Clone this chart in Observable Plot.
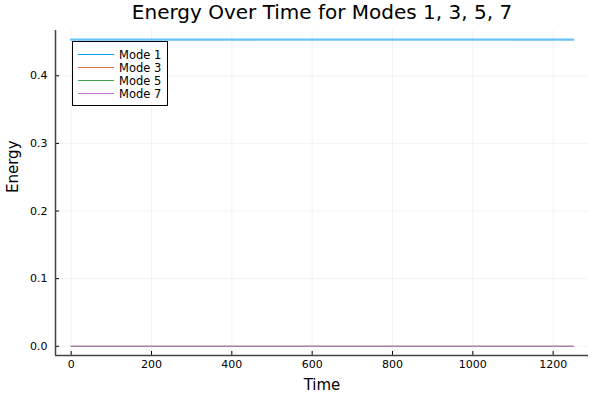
<!DOCTYPE html>
<html>
<head>
<meta charset="utf-8">
<script src="https://cdn.jsdelivr.net/npm/d3@7"></script>
<script src="https://cdn.jsdelivr.net/npm/@observablehq/plot@0.6"></script>
<style>
  html, body { margin: 0; padding: 0; background: #fff; }
  #chart { position: relative; width: 600px; height: 400px; font-family: "DejaVu Sans", sans-serif; }
</style>
</head>
<body>
<div id="chart"></div>
<script>
const title = "Energy Over Time for Modes 1, 3, 5, 7";
const xLabel = "Time";
const yLabel = "Energy";
const modes = ["Mode 1", "Mode 3", "Mode 5", "Mode 7"];
const colors = ["#009AFA", "#E36F47", "#3EA44E", "#C271D2"];
const time = [0, 250, 500, 750, 1000, 1250];
const mode1 = [0.4533, 0.4533, 0.4533, 0.4533, 0.4533, 0.4533];
const mode3 = [0.0, 0.0, 0.0, 0.0, 0.0, 0.0];
const mode5 = [0.0, 0.0, 0.0, 0.0, 0.0, 0.0];
const mode7 = [0.0, 0.0, 0.0, 0.0, 0.0, 0.0];
const xTicks = [0, 200, 400, 600, 800, 1000, 1200];
const yTicks = [0.0, 0.1, 0.2, 0.3, 0.4];
const xDomain = [-39, 1288];
const yDomain = [-0.0136, 0.4669];

const series = [mode1, mode3, mode5, mode7];
const rows = [];
series.forEach((vals, i) => vals.forEach((v, j) => rows.push({mode: modes[i], t: time[j], e: v})));

const font = "DejaVu Sans, sans-serif";
const plot = Plot.plot({
  width: 600,
  height: 400,
  marginLeft: 55,
  marginRight: 12,
  marginTop: 30,
  marginBottom: 45,
  style: {fontFamily: font, fontSize: "11px", color: "#000", background: "#fff"},
  x: {domain: xDomain, ticks: xTicks, label: null},
  y: {domain: yDomain, ticks: yTicks, label: null},
  color: {domain: modes, range: colors},
  marks: [
    Plot.gridX(xTicks, {stroke: "#000", strokeOpacity: 0.1, strokeWidth: 0.5}),
    Plot.gridY(yTicks, {stroke: "#000", strokeOpacity: 0.1, strokeWidth: 0.5}),
    Plot.axisX(xTicks, {tickSize: -4, tickPadding: 9, tickFormat: d => String(d), fontSize: 11, stroke: "#000", color: "#000"}),
    Plot.axisY(yTicks, {tickSize: -4, tickPadding: 12, tickFormat: d => d.toFixed(1), fontSize: 11, stroke: "#000", color: "#000"}),
    Plot.ruleX([xDomain[0]], {stroke: "#444", strokeWidth: 1.5}),
    Plot.ruleY([yDomain[0]], {stroke: "#444", strokeWidth: 1.5}),
    Plot.line(rows.filter(d => d.mode === "Mode 1"), {x: "t", y: "e", stroke: "mode", strokeWidth: 2.2, strokeOpacity: 0.6}),
    Plot.line(rows.filter(d => d.mode !== "Mode 1"), {x: "t", y: "e", stroke: "mode", z: "mode", strokeWidth: 1}),
    Plot.text([title], {frameAnchor: "top", lineAnchor: "middle", dy: -18, fontSize: 20, fill: "#000"}),
    Plot.text([xLabel], {frameAnchor: "bottom", lineAnchor: "middle", dy: 30, fontSize: 15, fill: "#000"}),
    Plot.text([yLabel], {frameAnchor: "left", lineAnchor: "middle", dx: -42, rotate: -90, fontSize: 15, fill: "#000"})
  ]
});
document.getElementById("chart").appendChild(plot);

// legend
const svg = d3.select(plot);
const lg = svg.append("g").attr("font-family", font).attr("font-size", 11.5).attr("text-anchor", "start");
lg.append("rect").attr("x", 72.5).attr("y", 41.5).attr("width", 95).attr("height", 64)
  .attr("fill", "#fff").attr("stroke", "#000").attr("stroke-width", 1);
modes.forEach((m, i) => {
  const y = 54 + i * 13;
  lg.append("rect").attr("x", 78).attr("y", y).attr("width", 36).attr("height", 1.3)
    .attr("fill", colors[i]).attr("shape-rendering", "crispEdges");
  lg.append("text").attr("x", 119).attr("y", y + 0.5).attr("dy", "0.35em")
    .attr("text-anchor", "start").attr("fill", "#000").text(m);
});
</script>
</body>
</html>
